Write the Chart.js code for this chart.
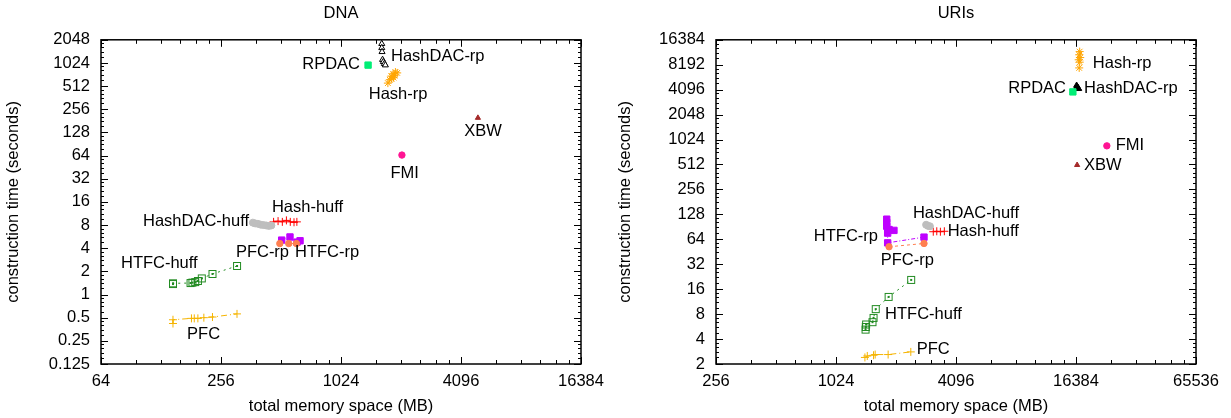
<!DOCTYPE html>
<html>
<head>
<meta charset="utf-8">
<script src="https://cdn.jsdelivr.net/npm/chart.js@4"></script>
<style>
  body { margin: 0; background: #fff; }
  #dnaChart { position: absolute; left: 0; top: 0; }
  #uriChart { position: absolute; left: 610px; top: 0; }
</style>
</head>
<body>
<canvas id="dnaChart" width="610" height="418"></canvas>
<canvas id="uriChart" width="621" height="418"></canvas>
<script>
// ---- DNA data: [memory MB, construction seconds] ----
var dnaPFC = [[147, 0.42], [147, 0.47], [182, 0.49], [188, 0.49], [196, 0.49], [210, 0.50], [232, 0.51], [308, 0.56]];
var dnaHTFCHuff = [[147, 1.37], [147, 1.40], [180, 1.41], [184, 1.43], [190, 1.45], [196, 1.50], [205, 1.62], [232, 1.85], [308, 2.35]];
var dnaHashHuff = [[470, 8.8], [495, 9.0], [520, 8.8], [545, 9.2], [570, 8.8], [595, 8.7], [615, 8.8]];
var dnaHashDACHuff = [[370, 8.6], [380, 8.4], [392, 8.3], [405, 8.1], [418, 8.0], [432, 7.9], [445, 7.8], [458, 7.9]];
var dnaHTFCRp = [[516, 5.1], [568, 5.6], [616, 4.8], [638, 5.0]];
var dnaPFCRp = [[505, 4.6], [560, 4.6], [612, 4.6]];
var dnaHashDACRp = [[1640, 1820], [1640, 1610], [1645, 1430], [1655, 1130], [1670, 1060], [1690, 1000], [1710, 960]];
var dnaRPDAC = [[1400, 960]];
var dnaHashRp = [[1760, 560], [1800, 620], [1840, 640], [1830, 690], [1880, 660], [1900, 700], [1870, 740], [1920, 780], [1960, 760]];
var dnaFMI = [[2070, 65]];
var dnaXBW = [[4980, 198]];

// ---- URIs data ----
var uriPFC = [[1430, 2.4], [1470, 2.5], [1580, 2.55], [1610, 2.6], [1870, 2.6], [2430, 2.8]];
var uriHTFCHuff = [[1440, 5.2], [1445, 5.6], [1450, 6.0], [1560, 6.4], [1580, 7.2], [1620, 9.2], [1880, 12.9], [2440, 20.7]];
var uriHTFCRp = [[2830, 68], [1860, 58], [1860, 76], [2000, 82], [1890, 84], [1840, 92], [1840, 102], [1840, 112]];
var uriPFCRp = [[1890, 52], [2830, 57]];
var uriHashDACHuff = [[2900, 96], [2960, 93], [3030, 92]];
var uriHashHuff = [[3150, 79], [3280, 80], [3420, 79], [3580, 80]];
var uriHashRp = [[17100, 11800], [17000, 10800], [17200, 10000], [16900, 9400], [17100, 8800], [17000, 7500]];
var uriHashDACRp = [[16500, 4600], [16600, 4450], [16700, 4350], [16800, 4250], [16900, 4200]];
var uriRPDAC = [[15800, 3850]];
var uriFMI = [[23400, 860]];
var uriXBW = [[16600, 505]];

// ---- tick labels ----
var dnaXTicks = [64, 256, 1024, 4096, 16384];
var dnaYTicks = [0.125, 0.25, 0.5, 1, 2, 4, 8, 16, 32, 64, 128, 256, 512, 1024, 2048];
var uriXTicks = [256, 1024, 4096, 16384, 65536];
var uriYTicks = [2, 4, 8, 16, 32, 64, 128, 256, 512, 1024, 2048, 4096, 8192, 16384];

// ---- point labels, anchored in data coordinates ----
var dnaLabels = [
  {text: 'RPDAC', x: 1275, y: 965, align: 'right'},
  {text: 'HashDAC-rp', x: 1825, y: 1232, align: 'left'},
  {text: 'Hash-rp', x: 1980, y: 394, align: 'center'},
  {text: 'XBW', x: 5280, y: 130, align: 'center'},
  {text: 'FMI', x: 2135, y: 38, align: 'center'},
  {text: 'Hash-huff', x: 461, y: 13.4, align: 'left'},
  {text: 'HashDAC-huff', x: 354, y: 8.8, align: 'right'},
  {text: 'PFC-rp', x: 304, y: 3.48, align: 'left'},
  {text: 'HTFC-rp', x: 602, y: 3.48, align: 'left'},
  {text: 'HTFC-huff', x: 80.6, y: 2.57, align: 'left'},
  {text: 'PFC', x: 173, y: 0.307, align: 'left'}
];
var uriLabels = [
  {text: 'Hash-rp', x: 19900, y: 8420, align: 'left'},
  {text: 'RPDAC', x: 14600, y: 4190, align: 'right'},
  {text: 'HashDAC-rp', x: 17980, y: 4190, align: 'left'},
  {text: 'FMI', x: 25900, y: 860, align: 'left'},
  {text: 'XBW', x: 17980, y: 505, align: 'left'},
  {text: 'HashDAC-huff', x: 2490, y: 130, align: 'left'},
  {text: 'Hash-huff', x: 3720, y: 79, align: 'left'},
  {text: 'HTFC-rp', x: 1663, y: 70, align: 'right'},
  {text: 'PFC-rp', x: 1716, y: 36, align: 'left'},
  {text: 'HTFC-huff', x: 1806, y: 8.0, align: 'left'},
  {text: 'PFC', x: 2600, y: 3.03, align: 'left'}
];

var FONT = 'Liberation Sans, Arial, Helvetica, sans-serif';

// open square with a dot in the middle (gnuplot style)
function boxDot(color) {
  var c = document.createElement('canvas');
  c.width = 10; c.height = 10;
  var g = c.getContext('2d');
  g.strokeStyle = color;
  g.lineWidth = 1;
  g.strokeRect(1.5, 1.5, 7, 7);
  g.fillStyle = color;
  g.fillRect(4, 4, 2, 2);
  return c;
}

var styles = {
  'PFC': {color: '#f5b400', point: 'cross', r: 4, dash: [6, 3, 1, 3], line: true},
  'HTFC-huff': {color: '#228b22', point: boxDot('#228b22'), r: 5, dash: [2, 4], line: true},
  'Hash-huff': {color: '#ff0000', point: 'cross', r: 4, dash: [], line: true},
  'HashDAC-huff': {color: '#bebebe', point: 'circle', r: 3.5, fill: '#bebebe', line: false},
  'HTFC-rp': {color: '#bf00ff', point: 'rect', r: 4.5, fill: '#bf00ff', dash: [4, 2, 1, 2], line: true},
  'PFC-rp': {color: '#ff7f50', point: 'circle', r: 3.2, fill: '#ff7f50', dash: [3, 3], line: true},
  'HashDAC-rp': {color: '#000000', point: 'triangle', r: 3.5, fill: '#ffffff', line: false},
  'RPDAC': {color: '#00ee76', point: 'rect', r: 4.5, fill: '#00ee76', line: false},
  'Hash-rp': {color: '#ffa500', point: 'star', r: 4, line: false},
  'FMI': {color: '#ff1493', point: 'circle', r: 3.2, fill: '#ff1493', line: false},
  'XBW': {color: '#a52a2a', point: 'triangle', r: 3, fill: '#a52a2a', line: false}
};

function toDataset(name, pairs, fillOverride) {
  var s = styles[name];
  var fill = fillOverride || s.fill || 'transparent';
  return {
    label: name,
    data: pairs.map(function(p) { return {x: p[0], y: p[1]}; }),
    showLine: s.line,
    borderColor: s.color,
    borderWidth: 1,
    borderDash: s.dash || [],
    pointStyle: s.point,
    pointRadius: s.r,
    pointBorderWidth: 1,
    pointBorderColor: s.color,
    pointBackgroundColor: fill,
    backgroundColor: fill,
    fill: false
  };
}

// frame + inward ticks on all four sides
var frameTicks = {
  id: 'frameTicks',
  afterDatasetsDraw: function(chart) {
    var ctx = chart.ctx, a = chart.chartArea;
    var xs = chart.scales.x, ys = chart.scales.y;
    ctx.save();
    ctx.strokeStyle = '#000';
    ctx.lineWidth = 1;
    function seg(x1, y1, x2, y2) {
      ctx.beginPath(); ctx.moveTo(x1, y1); ctx.lineTo(x2, y2); ctx.stroke();
    }
    function xTick(v, len) {
      var px = Math.round(xs.getPixelForValue(v)) + 0.5;
      seg(px, a.bottom, px, a.bottom - len);
      seg(px, a.top, px, a.top + len);
    }
    function yTick(v, len) {
      var py = Math.round(ys.getPixelForValue(v)) + 0.5;
      seg(a.left, py, a.left + len, py);
      seg(a.right, py, a.right - len, py);
    }
    var xt = xs.ticks.map(function(t) { return t.value; });
    var yt = ys.ticks.map(function(t) { return t.value; });
    xt.forEach(function(v, i) {
      xTick(v, 7);
      if (i < xt.length - 1) {
        for (var k = 1.5; k < 4; k += 0.5) xTick(v * k, 4);
      }
    });
    yt.forEach(function(v, i) {
      yTick(v, 7);
      if (i < yt.length - 1) {
        for (var k = 1.2; k < 1.95; k += 0.2) yTick(v * k, 3);
      }
    });
    ctx.lineWidth = 1.5;
    ctx.strokeRect(a.left, a.top, a.right - a.left, a.bottom - a.top);
    ctx.restore();
  }
};

function makeChart(id, title, datasets, labels, xRange, yRange, xTicks, yTicks, yWidth, padRight, yTitlePad) {
  var textPlugin = {
    id: 'pointLabels',
    afterDatasetsDraw: function(chart) {
      var ctx = chart.ctx;
      ctx.save();
      ctx.font = '16.5px ' + FONT;
      ctx.fillStyle = '#000';
      ctx.textBaseline = 'middle';
      labels.forEach(function(l) {
        ctx.textAlign = l.align;
        ctx.fillText(l.text, chart.scales.x.getPixelForValue(l.x), chart.scales.y.getPixelForValue(l.y));
      });
      ctx.restore();
    }
  };

  return new Chart(document.getElementById(id), {
    type: 'scatter',
    data: {datasets: datasets},
    options: {
      responsive: false,
      animation: false,
      layout: {padding: {left: 0, right: padRight, top: 0, bottom: 0}},
      plugins: {
        legend: {display: false},
        tooltip: {enabled: false},
        title: {
          display: true,
          text: title,
          fullSize: false,
          color: '#000',
          font: {family: FONT, size: 16.5, weight: 'normal'},
          padding: {top: 4, bottom: 16}
        }
      },
      scales: {
        x: {
          type: 'logarithmic',
          min: xRange[0],
          max: xRange[1],
          afterBuildTicks: function(s) { s.ticks = xTicks.map(function(v) { return {value: v}; }); },
          afterFit: function(s) { s.height = 54; s.paddingLeft = 0; s.paddingRight = 0; },
          ticks: {
            autoSkip: false, maxRotation: 0, padding: 8, color: '#000',
            font: {family: FONT, size: 16.5},
            callback: function(v) { return String(v); }
          },
          grid: {display: false, drawTicks: false},
          border: {display: false},
          title: {
            display: true, text: 'total memory space (MB)', color: '#000',
            font: {family: FONT, size: 16.5}, padding: {top: 4, bottom: 2}
          }
        },
        y: {
          type: 'logarithmic',
          min: yRange[0],
          max: yRange[1],
          afterBuildTicks: function(s) { s.ticks = yTicks.map(function(v) { return {value: v}; }); },
          afterFit: function(s) { s.width = yWidth; s.paddingTop = 0; s.paddingBottom = 0; },
          ticks: {
            autoSkip: false, padding: 11, color: '#000',
            font: {family: FONT, size: 16.5},
            callback: function(v) { return String(v); }
          },
          grid: {display: false, drawTicks: false},
          border: {display: false},
          title: {
            display: true, text: 'construction time (seconds)', color: '#000',
            font: {family: FONT, size: 16.5}, padding: {top: yTitlePad, bottom: 0}
          }
        }
      }
    },
    plugins: [frameTicks, textPlugin]
  });
}

var dnaDatasets = [
  toDataset('PFC', dnaPFC),
  toDataset('HTFC-huff', dnaHTFCHuff),
  toDataset('HashDAC-huff', dnaHashDACHuff),
  toDataset('Hash-huff', dnaHashHuff),
  toDataset('PFC-rp', dnaPFCRp),
  toDataset('HTFC-rp', dnaHTFCRp),
  toDataset('RPDAC', dnaRPDAC),
  toDataset('HashDAC-rp', dnaHashDACRp),
  toDataset('Hash-rp', dnaHashRp),
  toDataset('FMI', dnaFMI),
  toDataset('XBW', dnaXBW)
];

var uriDatasets = [
  toDataset('PFC', uriPFC),
  toDataset('HTFC-huff', uriHTFCHuff),
  toDataset('HashDAC-huff', uriHashDACHuff),
  toDataset('Hash-huff', uriHashHuff),
  toDataset('PFC-rp', uriPFCRp),
  toDataset('HTFC-rp', uriHTFCRp),
  toDataset('RPDAC', uriRPDAC),
  toDataset('HashDAC-rp', uriHashDACRp, '#000000'),
  toDataset('Hash-rp', uriHashRp),
  toDataset('FMI', uriFMI),
  toDataset('XBW', uriXBW)
];

makeChart('dnaChart', 'DNA', dnaDatasets, dnaLabels, [64, 16384], [0.125, 2048], dnaXTicks, dnaYTicks, 101, 29, 4);
makeChart('uriChart', 'URIs', uriDatasets, uriLabels, [256, 65536], [2, 16384], uriXTicks, uriYTicks, 106, 35, 6);
</script>
</body>
</html>
